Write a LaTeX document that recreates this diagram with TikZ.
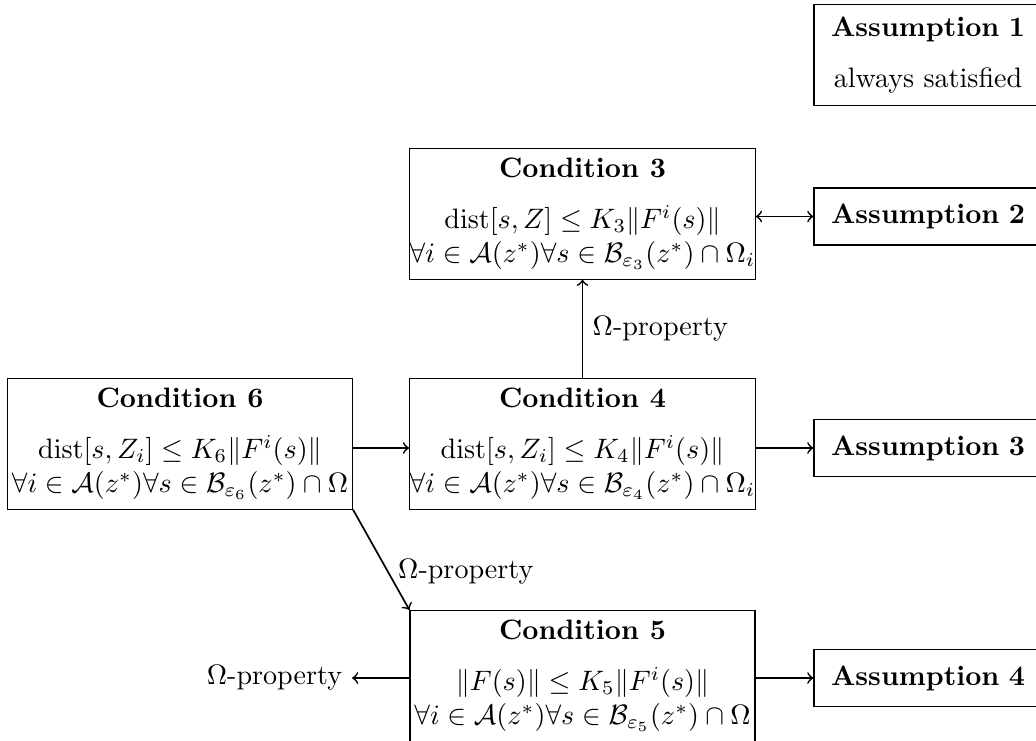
\documentclass[tikz,border=0pt]{standalone}
\usepackage{amsmath,amssymb}
\usetikzlibrary{positioning,calc}
\tikzset{
    % Boxes
    condition box/.style={draw,align=center,minimum width=122.8pt,inner xsep=0pt,inner ysep=3.5pt},
    assumption box/.style={draw,align=center,text width=72.2pt,minimum height=20.3pt,inner sep=4.5pt},
    %
    % Arrows
    arr/.style={->,semithick},
    darr/.style={<->,semithick}
}

\begin{document}
\begin{tikzpicture}[x=0.356pt,y=-0.356pt]
        \useasboundingbox (0,0) rectangle (1036,740);

        \node[condition box,anchor=north] (cond3) at (582.5,148)
            {\textbf{Condition 3}\\[6pt]
             $\operatorname{dist}[s,Z]\leq K_3\|F^i(s)\|$\\
             $\forall i\in\mathcal{A}(z^*)\forall s\in\mathcal{B}_{\varepsilon_3}(z^*)\cap\Omega_i$};
        \node[condition box,anchor=north] (cond6) at (180,378)
            {\textbf{Condition 6}\\[6pt]
             $\operatorname{dist}[s,Z_i]\leq K_6\|F^i(s)\|$\\
             $\forall i\in\mathcal{A}(z^*)\forall s\in\mathcal{B}_{\varepsilon_6}(z^*)\cap\Omega$};
        \node[condition box,anchor=north] (cond4) at (582.5,378)
            {\textbf{Condition 4}\\[6pt]
             $\operatorname{dist}[s,Z_i]\leq K_4\|F^i(s)\|$\\
             $\forall i\in\mathcal{A}(z^*)\forall s\in\mathcal{B}_{\varepsilon_4}(z^*)\cap\Omega_i$};
        \node[condition box,anchor=north] (cond5) at (582.5,610)
            {\textbf{Condition 5}\\[6pt]
             $\|F(s)\|\leq K_5\|F^i(s)\|$\\
             $\forall i\in\mathcal{A}(z^*)\forall s\in\mathcal{B}_{\varepsilon_5}(z^*)\cap\Omega$};

        \node[assumption box] (ass1) at (928,55) {\textbf{Assumption 1}\\[6pt] always satisfied};
        \node[assumption box] (ass2) at (928,216.5) {\textbf{Assumption 2}};
        \node[assumption box] (ass3) at (928,448) {\textbf{Assumption 3}};
        \node[assumption box] (ass4) at (928,678) {\textbf{Assumption 4}};

        \node[anchor=east] (prop) at (352,678) {$\Omega$-property};

        \draw[darr] (cond3.east |- ass2) -- (ass2.west);
        \draw[arr] (cond4.north) -- (cond3.south) node[midway,right] {$\Omega$-property};
        \draw[arr] (cond6.east |- ass3) -- (cond4.west |- ass3);
        \draw[arr] (cond4.east |- ass3) -- (ass3.west);
        \draw[arr] (cond6.south east) -- (cond5.north west) node[pos=.62,right] {$\Omega$-property};
        \draw[arr] (cond5.west |- ass4) -- (prop);
        \draw[arr] (cond5.east |- ass4) -- (ass4.west);
    \end{tikzpicture}
\end{document}
